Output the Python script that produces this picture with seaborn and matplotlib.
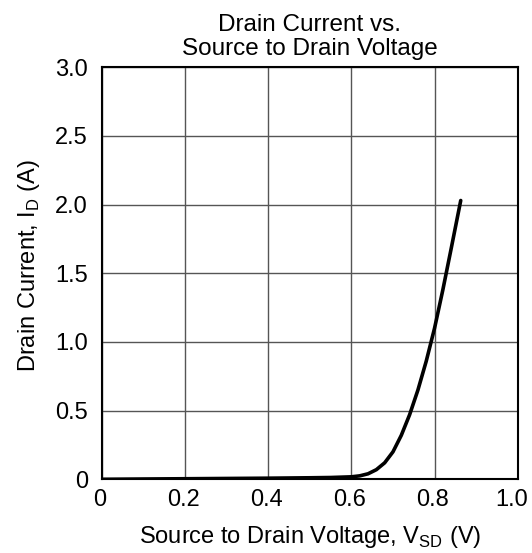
import matplotlib
matplotlib.use('Agg')
import matplotlib.pyplot as plt
import matplotlib.transforms as mtransforms
import pandas as pd
import seaborn as sns

# Curve
v_sd = [0.0, 0.1, 0.2, 0.3, 0.4, 0.5, 0.55, 0.6, 0.62, 0.64, 0.66, 0.68,
        0.70, 0.72, 0.74, 0.76, 0.78, 0.80, 0.82, 0.84, 0.863]
i_d = [0.0, 0.002, 0.004, 0.006, 0.008, 0.011, 0.013, 0.018, 0.025, 0.04,
       0.07, 0.12, 0.2, 0.32, 0.47, 0.65, 0.86, 1.1, 1.38, 1.68, 2.03]

x_ticks = [0, 0.2, 0.4, 0.6, 0.8, 1.0]
x_labels = ['0', '0.2', '0.4', '0.6', '0.8', '1.0']
y_ticks = [0, 0.5, 1.0, 1.5, 2.0, 2.5, 3.0]
y_labels = ['0', '0.5', '1.0', '1.5', '2.0', '2.5', '3.0']

df = pd.DataFrame({'vsd': v_sd, 'id': i_d})

sns.set_style('white')
plt.rcParams['font.family'] = ['Liberation Sans', 'DejaVu Sans']
plt.rcParams['mathtext.fontset'] = 'custom'
plt.rcParams['mathtext.rm'] = 'Liberation Sans'
plt.rcParams['text.color'] = 'black'
plt.rcParams['axes.labelcolor'] = 'black'
plt.rcParams['xtick.color'] = 'black'
plt.rcParams['ytick.color'] = 'black'

fig = plt.figure(figsize=(5.32, 5.53), dpi=100)
ax = fig.add_axes([0.1917, 0.1333, 0.7814, 0.745])

sns.lineplot(data=df, x='vsd', y='id', ax=ax, color='black', linewidth=2.6)

ax.set_xlim(0, 1.0)
ax.set_ylim(0, 3.0)
ax.set_xticks(x_ticks)
ax.set_xticklabels(x_labels)
ax.set_yticks(y_ticks)
ax.set_yticklabels(y_labels)
ax.tick_params(length=0, labelsize=17, labelcolor='black')
ax.tick_params(axis='y', pad=10)
ax.tick_params(axis='x', pad=7)
ax.grid(True, color='#555555', linewidth=1)
ax.set_axisbelow(True)
for s in ax.spines.values():
    s.set_color('black')
    s.set_linewidth(1.5)

# x tick labels sit a little left of their ticks in the original
for i, lab in enumerate(ax.get_xticklabels()):
    dx = -6 if i == len(x_labels) - 1 else -2
    lab.set_transform(lab.get_transform() + mtransforms.ScaledTranslation(dx / 100, 0, fig.dpi_scale_trans))

ax.set_xlabel(r'Source to Drain Voltage, V$_\mathregular{SD}$ (V)', fontsize=17, labelpad=9, color='black')
ax.set_ylabel(r'Drain Current, I$_\mathregular{D}$ (A)', fontsize=17, color='black')
ax.yaxis.set_label_coords(-0.145, 0.52)
ax.set_title('Drain Current vs.\nSource to Drain Voltage', fontsize=17.5, pad=9,
             linespacing=1.12, color='black')

fig.savefig('out.png', dpi=100)
